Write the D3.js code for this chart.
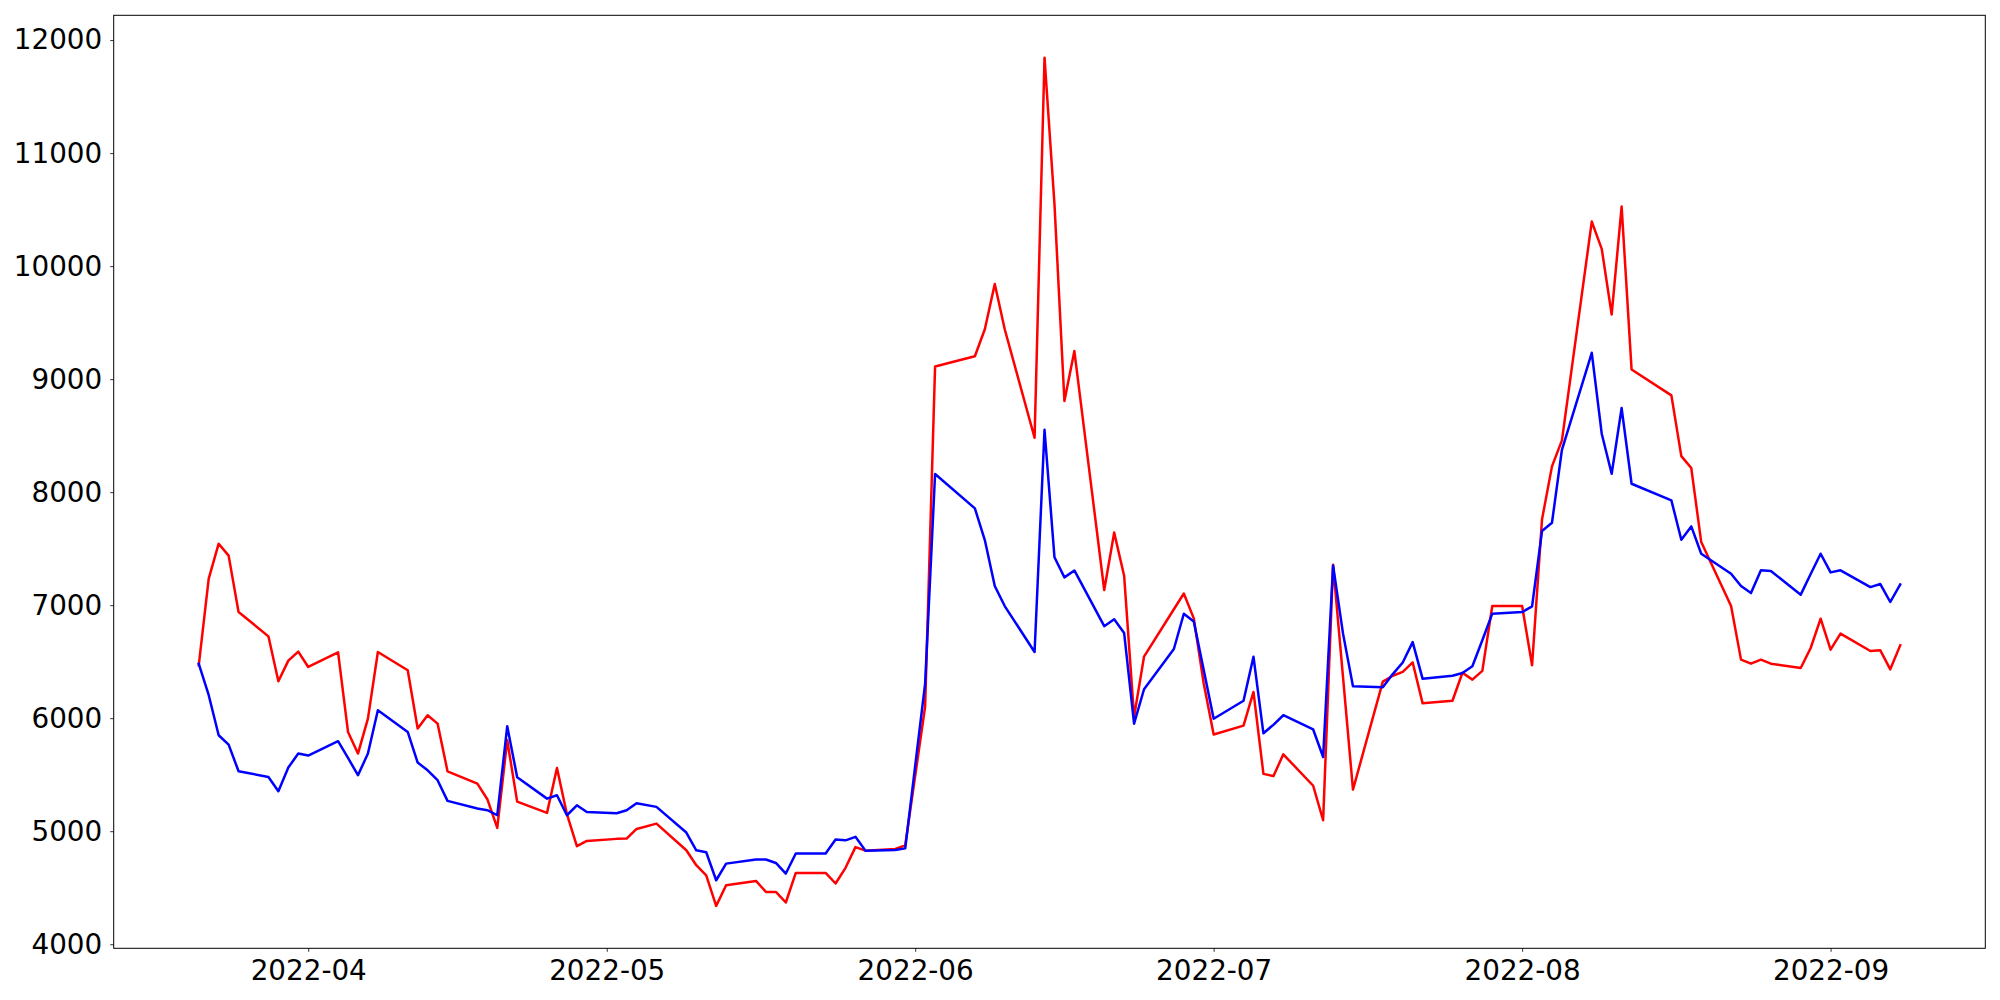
<!DOCTYPE html>
<html>
<head>
<meta charset="utf-8">
<script src="https://cdn.jsdelivr.net/npm/d3@7"></script>
<style>
  html, body { margin: 0; padding: 0; background: #fff; }
  svg { display: block; }
  text { font-family: "DejaVu Sans", sans-serif; }
</style>
</head>
<body>
<svg id="chart" width="2000" height="1000"></svg>
<script>
const dates = [
  "2022-03-21","2022-03-22","2022-03-23","2022-03-24","2022-03-25",
  "2022-03-28","2022-03-29","2022-03-30","2022-03-31","2022-04-01",
  "2022-04-04","2022-04-05","2022-04-06","2022-04-07","2022-04-08",
  "2022-04-11","2022-04-12","2022-04-13","2022-04-14","2022-04-15",
  "2022-04-18","2022-04-19","2022-04-20","2022-04-21","2022-04-22",
  "2022-04-25","2022-04-26","2022-04-27","2022-04-28","2022-04-29",
  "2022-05-02","2022-05-03","2022-05-04","2022-05-06",
  "2022-05-09","2022-05-10","2022-05-11","2022-05-12","2022-05-13",
  "2022-05-16","2022-05-17","2022-05-18","2022-05-19","2022-05-20",
  "2022-05-23","2022-05-24","2022-05-25","2022-05-26","2022-05-27",
  "2022-05-30","2022-05-31","2022-06-02","2022-06-03",
  "2022-06-07","2022-06-08","2022-06-09","2022-06-10",
  "2022-06-13","2022-06-14","2022-06-15","2022-06-16","2022-06-17",
  "2022-06-20","2022-06-21","2022-06-22","2022-06-23","2022-06-24",
  "2022-06-27","2022-06-28","2022-06-29","2022-06-30","2022-07-01",
  "2022-07-04","2022-07-05","2022-07-06","2022-07-07","2022-07-08",
  "2022-07-11","2022-07-12","2022-07-13","2022-07-14","2022-07-15",
  "2022-07-18","2022-07-19","2022-07-20","2022-07-21","2022-07-22",
  "2022-07-25","2022-07-26","2022-07-27","2022-07-28","2022-07-29",
  "2022-08-01","2022-08-02","2022-08-03","2022-08-04","2022-08-05",
  "2022-08-08","2022-08-09","2022-08-10","2022-08-11","2022-08-12",
  "2022-08-16","2022-08-17","2022-08-18","2022-08-19",
  "2022-08-22","2022-08-23","2022-08-24","2022-08-25","2022-08-26",
  "2022-08-29","2022-08-30","2022-08-31","2022-09-01","2022-09-02",
  "2022-09-05","2022-09-06","2022-09-07","2022-09-08"
];

const redValues = [
  6470, 7234, 7544, 7438, 6940,
  6724, 6326, 6509, 6589, 6453,
  6583, 5878, 5687, 5996, 6586,
  6424, 5908, 6026, 5952, 5530,
  5421, 5283, 5029, 5805, 5262,
  5162, 5560, 5150, 4867, 4914,
  4932, 4935, 5020, 5067,
  4831, 4699, 4610, 4339, 4522,
  4560, 4463, 4463, 4369, 4631,
  4631, 4537, 4676, 4859, 4828,
  4843, 4874, 6103, 9111,
  9202, 9441, 9842, 9441,
  8481, 11844, 10548, 8806, 9248,
  7134, 7642, 7261, 6012, 6545,
  6964, 7103, 6883, 6307, 5856,
  5934, 6232, 5507, 5487, 5680,
  5402, 5097, 7358, 6363, 5368,
  6324, 6375, 6409, 6493, 6131,
  6154, 6402, 6341, 6418, 6992,
  6992, 6468, 7759, 8228, 8458,
  10394, 10153, 9572, 10527, 9085,
  8856, 8319, 8213, 7558,
  6992, 6518, 6482, 6518, 6482,
  6444, 6621, 6880, 6606, 6748,
  6594, 6600, 6432, 6645
];

const blueValues = [
  6480, 6203, 5849, 5766, 5530,
  5480, 5354, 5563, 5687, 5669,
  5796, 5648, 5495, 5687, 6070,
  5878, 5607, 5539, 5451, 5268,
  5200, 5186, 5141, 5928, 5477,
  5288, 5318, 5141, 5229, 5170,
  5159, 5185, 5247, 5215,
  4988, 4831, 4814, 4566, 4713,
  4749, 4749, 4719, 4625, 4802,
  4802, 4926, 4919, 4950, 4828,
  4833, 4848, 6306, 8161,
  7856, 7576, 7170, 6992,
  6586, 8552, 7424, 7246, 7307,
  6814, 6875, 6754, 5951, 6256,
  6612, 6924, 6856, 6426, 5995,
  6154, 6544, 5866, 5941, 6026,
  5900, 5656, 7351, 6748, 6283,
  6273, 6390, 6493, 6673, 6348,
  6375, 6399, 6459, 6689, 6925,
  6939, 6989, 7656, 7729, 8375,
  9233, 8517, 8163, 8744, 8074,
  7927, 7579, 7697, 7455,
  7278, 7169, 7107, 7308, 7302,
  7093, 7275, 7455, 7290, 7308,
  7160, 7187, 7028, 7184
];

const tickLabelsY = [4000, 5000, 6000, 7000, 8000, 9000, 10000, 11000, 12000];
const tickLabelsX = ["2022-04", "2022-05", "2022-06", "2022-07", "2022-08", "2022-09"];

const seriesList = [
  { name: "red", color: "#ff0000", values: redValues },
  { name: "blue", color: "#0000ff", values: blueValues }
];

const parse = d3.utcParse("%Y-%m-%d");
const parsedDates = dates.map(parse);

const svg = d3.select("#chart");
const margin = { left: 113.7, right: 2000 - 1985.3, top: 15.3, bottom: 1000 - 948.3 };
const W = 2000, H = 1000;
const x0 = margin.left, x1 = W - margin.right, y0 = margin.top, y1 = H - margin.bottom;

// matplotlib-style 5% margins
const tExt = d3.extent(parsedDates);
const tSpan = tExt[1] - tExt[0];
const allVals = redValues.concat(blueValues);
const vExt = d3.extent(allVals);
const vSpan = vExt[1] - vExt[0];

const x = d3.scaleUtc()
  .domain([new Date(+tExt[0] - 0.05 * tSpan), new Date(+tExt[1] + 0.05 * tSpan)])
  .range([x0, x1]);
const y = d3.scaleLinear()
  .domain([vExt[0] - 0.05 * vSpan, vExt[1] + 0.05 * vSpan])
  .range([y1, y0]);

const fontSize = 27.8;

// lines
const line = d3.line()
  .x((d, i) => x(parsedDates[i]))
  .y(d => y(d));

seriesList.forEach(s => {
  svg.append("path")
    .datum(s.values)
    .attr("fill", "none")
    .attr("stroke", s.color)
    .attr("stroke-width", 2.5)
    .attr("stroke-linejoin", "round")
    .attr("stroke-linecap", "square")
    .attr("d", line);
});

// x axis
const xTicks = tickLabelsX.map(s => parse(s + "-01"));
const xAxis = d3.axisBottom(x)
  .tickValues(xTicks)
  .tickFormat((d, i) => tickLabelsX[i])
  .tickSize(3.5)
  .tickPadding(8);
const gx = svg.append("g").attr("transform", `translate(0,${y1})`).call(xAxis);
gx.select(".domain").remove();
gx.selectAll(".tick line").attr("stroke", "#000").attr("stroke-width", 0.8);
gx.selectAll(".tick text").attr("font-size", fontSize).attr("fill", "#000")
  .attr("font-family", "DejaVu Sans");

// y axis
const yAxis = d3.axisLeft(y)
  .tickValues(tickLabelsY)
  .tickFormat(d3.format("d"))
  .tickSize(3.5)
  .tickPadding(8);
const gy = svg.append("g").attr("transform", `translate(${x0},0)`).call(yAxis);
gy.select(".domain").remove();
gy.selectAll(".tick line").attr("stroke", "#000").attr("stroke-width", 0.8);
gy.selectAll(".tick text").attr("font-size", fontSize).attr("fill", "#000")
  .attr("font-family", "DejaVu Sans");

// frame (spines)
svg.append("rect")
  .attr("x", x0).attr("y", y0)
  .attr("width", x1 - x0).attr("height", y1 - y0)
  .attr("fill", "none").attr("stroke", "#000").attr("stroke-width", 1);
</script>
</body>
</html>
